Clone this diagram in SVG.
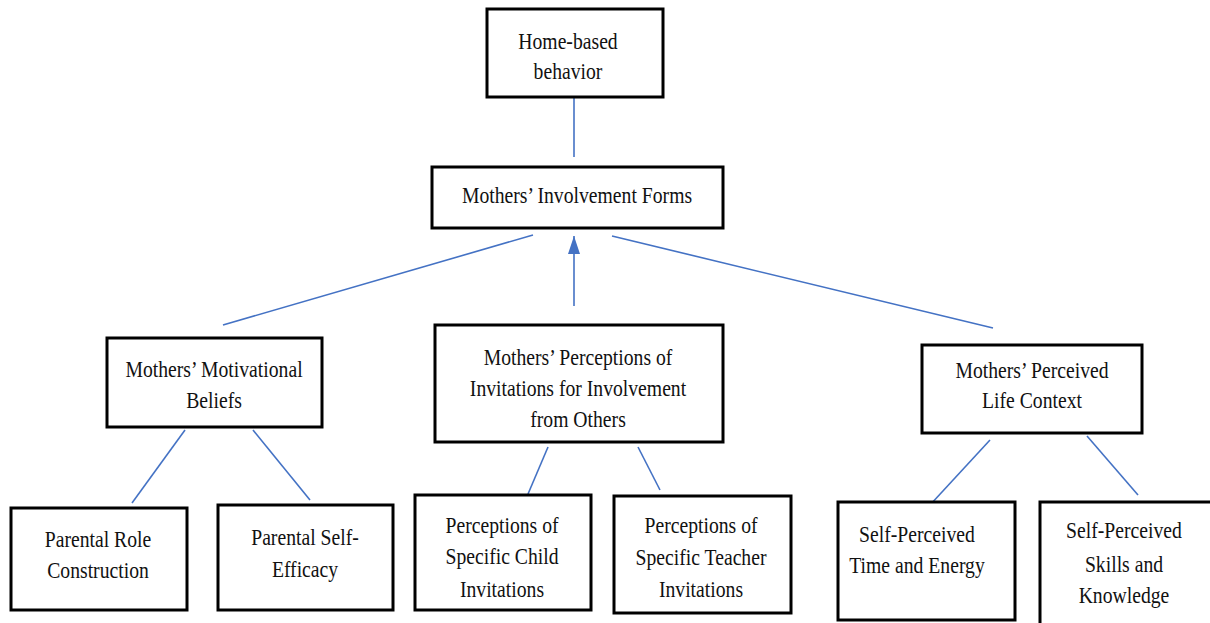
<svg xmlns="http://www.w3.org/2000/svg" width="1210" height="623" viewBox="0 0 1210 623">
<style>
.box{fill:#fff;stroke:#000;stroke-width:3}
.lbl{font-family:'Liberation Serif','DejaVu Serif','Noto Serif',serif;font-size:24px;fill:#111;text-anchor:middle}
.con{stroke:#4472C4;stroke-width:1.6;fill:none}
</style>
<defs>
<marker id="arr" viewBox="0 0 18 12" refX="18" refY="6" markerWidth="18" markerHeight="12" markerUnits="userSpaceOnUse" orient="auto">
<path d="M0,0 L18,6 L0,12 Z" fill="#4472C4"/>
</marker>
</defs>
<rect width="1210" height="623" fill="#fff"/>
<g id="connectors">
<line class="con" x1="574" y1="98" x2="574" y2="157"/>
<line class="con" x1="574" y1="306" x2="574" y2="236" marker-end="url(#arr)"/>
<line class="con" x1="533" y1="235" x2="223" y2="325"/>
<line class="con" x1="612" y1="236" x2="993" y2="328"/>
<line class="con" x1="185" y1="430" x2="132" y2="503"/>
<line class="con" x1="253" y1="430" x2="310" y2="500"/>
<line class="con" x1="548" y1="447" x2="528" y2="494"/>
<line class="con" x1="638" y1="447" x2="660" y2="490"/>
<line class="con" x1="990" y1="440" x2="930" y2="505"/>
<line class="con" x1="1087" y1="436" x2="1138" y2="495"/>
</g>
<g id="home">
<rect class="box" x="487" y="9" width="176" height="88"/>
<text class="lbl" transform="translate(568,49) scale(0.82,1)">Home-based</text>
<text class="lbl" transform="translate(568,79) scale(0.82,1)">behavior</text>
</g>
<g id="involvement">
<rect class="box" x="432" y="167" width="291" height="61"/>
<text class="lbl" transform="translate(577,203) scale(0.82,1)">Mothers’ Involvement Forms</text>
</g>
<g id="motivational">
<rect class="box" x="107" y="338" width="215" height="89"/>
<text class="lbl" transform="translate(214,377) scale(0.82,1)">Mothers’ Motivational</text>
<text class="lbl" transform="translate(214,408) scale(0.82,1)">Beliefs</text>
</g>
<g id="perceptions">
<rect class="box" x="435" y="325" width="288" height="117"/>
<text class="lbl" transform="translate(578,365) scale(0.82,1)">Mothers’ Perceptions of</text>
<text class="lbl" transform="translate(578,396) scale(0.82,1)">Invitations for Involvement</text>
<text class="lbl" transform="translate(578,427) scale(0.82,1)">from Others</text>
</g>
<g id="lifecontext">
<rect class="box" x="922" y="345" width="220" height="88"/>
<text class="lbl" transform="translate(1032,378) scale(0.82,1)">Mothers’ Perceived</text>
<text class="lbl" transform="translate(1032,408) scale(0.82,1)">Life Context</text>
</g>
<g id="role">
<rect class="box" x="11" y="508" width="176" height="102"/>
<text class="lbl" transform="translate(98,547) scale(0.82,1)">Parental Role</text>
<text class="lbl" transform="translate(98,578) scale(0.82,1)">Construction</text>
</g>
<g id="efficacy">
<rect class="box" x="218" y="505" width="175" height="105"/>
<text class="lbl" transform="translate(305,545) scale(0.82,1)">Parental Self-</text>
<text class="lbl" transform="translate(305,577) scale(0.82,1)">Efficacy</text>
</g>
<g id="child">
<rect class="box" x="415" y="495" width="176" height="115"/>
<text class="lbl" transform="translate(502,533) scale(0.82,1)">Perceptions of</text>
<text class="lbl" transform="translate(502,564) scale(0.82,1)">Specific Child</text>
<text class="lbl" transform="translate(502,597) scale(0.82,1)">Invitations</text>
</g>
<g id="teacher">
<rect class="box" x="614" y="496" width="177" height="117"/>
<text class="lbl" transform="translate(701,533) scale(0.82,1)">Perceptions of</text>
<text class="lbl" transform="translate(701,565) scale(0.82,1)">Specific Teacher</text>
<text class="lbl" transform="translate(701,597) scale(0.82,1)">Invitations</text>
</g>
<g id="time">
<rect class="box" x="838" y="502" width="177" height="118"/>
<text class="lbl" transform="translate(917,542) scale(0.82,1)">Self-Perceived</text>
<text class="lbl" transform="translate(917,573) scale(0.82,1)">Time and Energy</text>
</g>
<g id="skills">
<rect class="box" x="1040" y="502" width="180" height="130"/>
<text class="lbl" transform="translate(1124,538) scale(0.82,1)">Self-Perceived</text>
<text class="lbl" transform="translate(1124,572) scale(0.82,1)">Skills and</text>
<text class="lbl" transform="translate(1124,603) scale(0.82,1)">Knowledge</text>
</g>
</svg>
